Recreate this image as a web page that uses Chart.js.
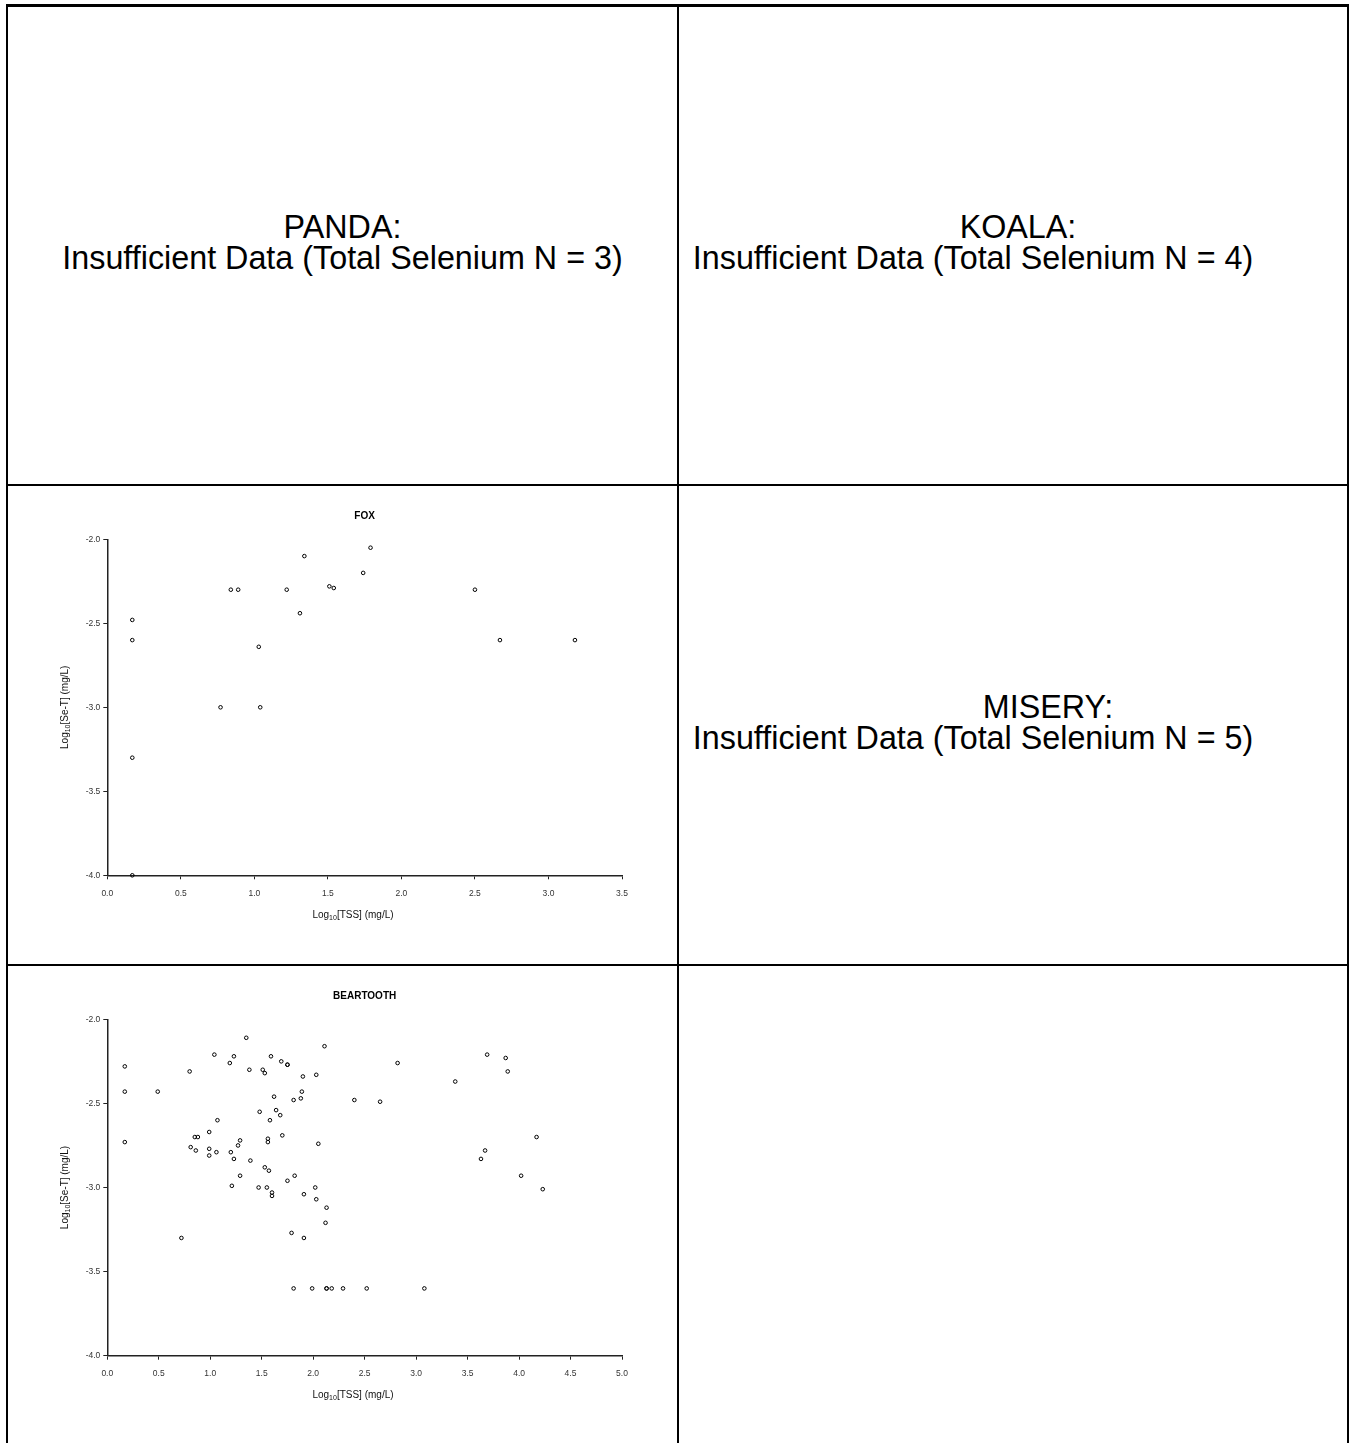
<!DOCTYPE html>
<html>
<head>
<meta charset="utf-8">
<title>Log TSS vs Log Se-T</title>
<script src="https://cdn.jsdelivr.net/npm/chart.js@4.4.1/dist/chart.umd.min.js"></script>
<style>
  html, body { margin: 0; padding: 0; background: #fff; overflow: hidden; }
  body { width: 1351px; height: 1443px; position: relative; font-family: "Liberation Sans", Arial, sans-serif; }
  .line { position: absolute; background: #000; }
  .msg {
    position: absolute;
    text-align: center;
    font-size: 32.3px;
    line-height: 31px;
    color: #000;
    white-space: nowrap;
  }
  .msg span { position: relative; }
  canvas { position: absolute; }
</style>
</head>
<body>
<!-- cell borders -->
<div class="line" style="left:6px;top:4px;width:1343px;height:3px"></div>
<div class="line" style="left:6px;top:484px;width:1343px;height:2px"></div>
<div class="line" style="left:6px;top:964px;width:1343px;height:2px"></div>
<div class="line" style="left:6px;top:4px;width:2px;height:1439px"></div>
<div class="line" style="left:677px;top:4px;width:2px;height:1439px"></div>
<div class="line" style="left:1347px;top:4px;width:2px;height:1439px"></div>

<div class="msg" style="left:8px;top:212px;width:669px">PANDA:<br>Insufficient Data (Total Selenium N = 3)</div>
<div class="msg" style="left:639px;top:212px;width:668px"><span style="left:45px">KOALA:</span><br>Insufficient Data (Total Selenium N = 4)</div>
<div class="msg" style="left:639px;top:692px;width:668px"><span style="left:75px">MISERY:</span><br>Insufficient Data (Total Selenium N = 5)</div>

<canvas id="foxChart" width="668" height="476" style="left:8px;top:488px"></canvas>
<canvas id="beartoothChart" width="668" height="475" style="left:8px;top:968px"></canvas>

<script>
// FOX: log10 TSS (mg/L) vs log10 Se-T (mg/L)
const foxTss = [0.17, 0.17, 0.17, 0.17, 0.77, 0.84, 0.89, 1.03, 1.04, 1.22,
  1.31, 1.34, 1.51, 1.54, 1.74, 1.79, 2.50, 2.67, 3.18];
const foxSe = [-2.48, -2.60, -3.30, -4.00, -3.00, -2.30, -2.30, -2.64, -3.00, -2.30,
  -2.44, -2.10, -2.28, -2.29, -2.20, -2.05, -2.30, -2.60, -2.60];

// BEARTOOTH
const beartoothTss = [0.17, 0.17, 0.17, 0.49, 0.80, 1.04, 1.23, 1.19, 1.35, 1.38,
  1.51, 1.53, 1.59, 1.69, 1.75, 1.75, 1.90, 2.03, 2.11, 1.89,
  1.88, 1.81, 1.62, 2.40, 1.48, 1.64, 1.68, 1.58, 1.07, 0.99,
  0.85, 0.88, 1.70, 1.56, 1.56, 1.29, 1.27, 2.05, 0.81, 0.86,
  0.99, 0.99, 1.06, 1.20, 1.23, 1.39, 1.53, 1.57, 1.29, 1.82,
  1.75, 1.21, 1.47, 1.55, 2.02, 1.60, 1.60, 1.91, 2.03, 2.13,
  2.12, 1.79, 1.91, 0.72, 1.81, 1.99, 2.13, 2.13, 2.18, 2.29,
  2.52, 3.08, 4.23, 2.65, 2.82, 3.38, 3.69, 3.87, 3.89, 4.17,
  3.67, 3.63, 4.02];
const beartoothSe = [-2.28, -2.43, -2.73, -2.43, -2.31, -2.21, -2.22, -2.26, -2.11, -2.30,
  -2.30, -2.32, -2.22, -2.25, -2.27, -2.27, -2.34, -2.33, -2.16, -2.43,
  -2.47, -2.48, -2.46, -2.48, -2.55, -2.54, -2.57, -2.60, -2.60, -2.67,
  -2.70, -2.70, -2.69, -2.71, -2.73, -2.72, -2.75, -2.74, -2.76, -2.78,
  -2.77, -2.81, -2.79, -2.79, -2.83, -2.84, -2.88, -2.90, -2.93, -2.93,
  -2.96, -2.99, -3.00, -3.00, -3.00, -3.03, -3.05, -3.04, -3.07, -3.12,
  -3.21, -3.27, -3.30, -3.30, -3.60, -3.60, -3.60, -3.60, -3.60, -3.60,
  -3.60, -3.60, -3.01, -2.49, -2.26, -2.37, -2.21, -2.23, -2.31, -2.70,
  -2.78, -2.83, -2.93];

const yTickMin = -4.0;
const yTickMax = -2.0;
const tickStep = 0.5;

const FONT = '"Liberation Sans", Arial, sans-serif';

// draws "Log" + subscript "10" + rest, centered on (cx, cy)
function drawLogLabel(ctx, rest, cx, cy) {
  const mainFont = "10px " + FONT;
  const subFont = "7px " + FONT;
  ctx.font = mainFont;
  const w1 = ctx.measureText("Log").width;
  const w3 = ctx.measureText(rest).width;
  ctx.font = subFont;
  const w2 = ctx.measureText("10").width;
  let x = cx - (w1 + w2 + w3) / 2;
  ctx.textAlign = "left";
  ctx.textBaseline = "middle";
  ctx.font = mainFont;
  ctx.fillText("Log", x, cy);
  x += w1;
  ctx.font = subFont;
  ctx.fillText("10", x, cy + 3);
  x += w2;
  ctx.font = mainFont;
  ctx.fillText(rest, x, cy);
}

// panel title and axis titles
const panelLabels = {
  id: "panelLabels",
  afterDraw(chart, args, opts) {
    const { ctx, chartArea } = chart;
    ctx.save();
    ctx.fillStyle = "#000";
    ctx.textAlign = "center";
    ctx.textBaseline = "middle";
    ctx.font = "bold 10px " + FONT;
    ctx.fillText(opts.title, (chartArea.left + chartArea.right) / 2, chartArea.top - 22.6);

    ctx.fillStyle = "#111";
    drawLogLabel(ctx, "[TSS] (mg/L)", 345, chartArea.bottom + 39.5);

    ctx.translate(57, (chartArea.top + chartArea.bottom) / 2);
    ctx.rotate(-Math.PI / 2);
    drawLogLabel(ctx, "[Se-T] (mg/L)", 0, 0);
    ctx.restore();
  },
};

const makeScatter = (canvasId, title, xs, ys, xMax, bottomPad) => {
  const points = xs.map((x, i) => ({ x: x, y: ys[i] }));
  const ctx = document.getElementById(canvasId).getContext("2d");

  return new Chart(ctx, {
    type: "scatter",
    data: {
      datasets: [
        {
          data: points,
          pointRadius: 1.8,
          pointBorderWidth: 1,
          pointBorderColor: "#000",
          pointBackgroundColor: "rgba(0,0,0,0)",
          pointHoverRadius: 1.8,
          clip: false,
        },
      ],
    },
    options: {
      responsive: false,
      animation: false,
      devicePixelRatio: 1,
      layout: {
        padding: { left: 59.3, top: 51.3, right: 54, bottom: bottomPad },
      },
      scales: {
        x: {
          type: "linear",
          min: 0,
          max: xMax,
          afterFit: (scale) => { scale.height = 30; },
          ticks: {
            stepSize: tickStep,
            padding: 9,
            color: "#333",
            font: { family: FONT, size: 8.5 },
            callback: (v) => v.toFixed(1),
            maxRotation: 0,
          },
          grid: { drawOnChartArea: false, drawTicks: true, tickLength: 4, color: "#222" },
          border: { display: true, color: "#222", width: 1.5 },
        },
        y: {
          type: "linear",
          min: yTickMin,
          max: yTickMax,
          afterFit: (scale) => { scale.width = 40; },
          ticks: {
            stepSize: tickStep,
            padding: 3,
            color: "#333",
            font: { family: FONT, size: 8.5 },
            callback: (v) => v.toFixed(1),
          },
          grid: { drawOnChartArea: false, drawTicks: true, tickLength: 4, color: "#222" },
          border: { display: true, color: "#222", width: 1.5 },
        },
      },
      plugins: {
        legend: { display: false },
        tooltip: { enabled: false },
        panelLabels: { title: title },
      },
    },
    plugins: [panelLabels],
  });
};

makeScatter("foxChart", "FOX", foxTss, foxSe, 3.5, 58.7);
makeScatter("beartoothChart", "BEARTOOTH", beartoothTss, beartoothSe, 5.0, 57.3);
</script>
</body>
</html>
